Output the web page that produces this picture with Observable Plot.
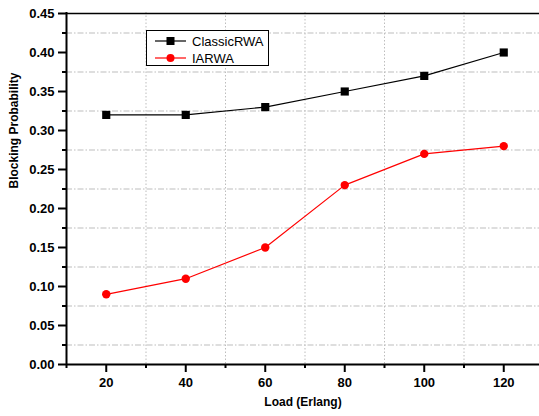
<!DOCTYPE html>
<html>
<head>
<meta charset="utf-8">
<script src="https://cdn.jsdelivr.net/npm/d3@7"></script>
<script src="https://cdn.jsdelivr.net/npm/@observablehq/plot@0.6"></script>
<style>
  body { margin: 0; background: #fff; font-family: "Liberation Sans", Arial, sans-serif; }
  #wrap { position: relative; width: 539px; height: 416px; }
  #legend { position: absolute; left: 146px; top: 30px; width: 121px; height: 34px; border: 1px solid #000; background: #fff; font-size: 13px; }
  #legend .row { position: absolute; left: 0; height: 16px; display: flex; align-items: center; }
  #legend svg { display: block; }
  #legend span { margin-left: 5px; color: #000; }
</style>
</head>
<body>
<div id="wrap"></div>
<script>
const loads = [20, 40, 60, 80, 100, 120];
const classicRWA = [0.32, 0.32, 0.33, 0.35, 0.37, 0.40];
const iarwa = [0.09, 0.11, 0.15, 0.23, 0.27, 0.28];
const seriesNames = ["ClassicRWA", "IARWA"];
const xMajor = [20, 40, 60, 80, 100, 120];
const xMinor = [10, 30, 50, 70, 90, 110, 130];
const yMajor = [0, 0.05, 0.10, 0.15, 0.20, 0.25, 0.30, 0.35, 0.40, 0.45];
const yMinor = [0.025, 0.075, 0.125, 0.175, 0.225, 0.275, 0.325, 0.375, 0.425];
const xGrid = [30, 50, 70, 90, 110];

const classicData = loads.map((x, i) => ({x, y: classicRWA[i]}));
const iaData = loads.map((x, i) => ({x, y: iarwa[i]}));

const chart = Plot.plot({
  width: 539,
  height: 416,
  marginLeft: 66,
  marginTop: 12,
  marginBottom: 52,
  marginRight: 0,
  style: {fontFamily: "'Liberation Sans', Arial, sans-serif", fontSize: "13px", fontWeight: "bold", color: "#000", background: "#fff"},
  x: {domain: [10, 130], range: [66, 543]},
  y: {domain: [0, 0.45], range: [364, 13]},
  marks: [
    Plot.ruleY(yMinor, {stroke: "#bdbdbd", strokeWidth: 1, strokeDasharray: "6,2,1.5,2"}),
    Plot.ruleX(xGrid, {stroke: "#bdbdbd", strokeWidth: 1, strokeDasharray: "1.5,2"}),
    Plot.ruleY([0.45], {stroke: "#000", strokeWidth: 1.5}),
    Plot.axisY(yMajor, {anchor: "left", tickSize: 8, tickPadding: 4, strokeWidth: 2, tickFormat: d3.format(".2f"), label: null, fontSize: 13, fontWeight: "bold"}),
    Plot.axisY(yMinor, {anchor: "left", tickSize: 4, strokeWidth: 2, tickFormat: () => "", label: null}),
    Plot.axisX(xMajor, {anchor: "bottom", tickSize: 8, tickPadding: 5, strokeWidth: 2, label: null, fontSize: 13, fontWeight: "bold"}),
    Plot.axisX(xMinor, {anchor: "bottom", tickSize: 4, strokeWidth: 2, tickFormat: () => "", label: null}),
    Plot.ruleX([10], {stroke: "#000", strokeWidth: 2}),
    Plot.ruleY([0], {stroke: "#000", strokeWidth: 2}),
    Plot.line(classicData, {x: "x", y: "y", stroke: "#000", strokeWidth: 1.2}),
    Plot.line(iaData, {x: "x", y: "y", stroke: "#ff0000", strokeWidth: 1.2}),
    Plot.dot(classicData, {x: "x", y: "y", symbol: "square", r: 4.6, fill: "#000", stroke: "none"}),
    Plot.dot(iaData, {x: "x", y: "y", symbol: "circle", r: 4.2, fill: "#ff0000", stroke: "none"}),
    Plot.text(["Blocking Probability"], {frameAnchor: "left", dx: -52, rotate: -90, fontSize: 12, fontWeight: "bold"}),
    Plot.text(["Load (Erlang)"], {frameAnchor: "bottom", dy: 41, fontSize: 12, fontWeight: "bold"})
  ]
});
const wrap = document.getElementById("wrap");
wrap.appendChild(chart);

const legend = document.createElement("div");
legend.id = "legend";
const colors = ["#000", "#ff0000"];
const symbols = ["square", "circle"];
seriesNames.forEach((name, i) => {
  const row = document.createElement("div");
  row.className = "row";
  row.style.top = (2 + i * 17) + "px";
  const sw = d3.create("svg").attr("width", 40).attr("height", 16);
  sw.append("line").attr("x1", 8).attr("x2", 39).attr("y1", 8).attr("y2", 8).attr("stroke", colors[i]).attr("stroke-width", 1.2);
  if (symbols[i] === "square") sw.append("rect").attr("x", 19.5).attr("y", 4).attr("width", 8).attr("height", 8).attr("fill", colors[i]);
  else sw.append("circle").attr("cx", 23.5).attr("cy", 8).attr("r", 4).attr("fill", colors[i]);
  row.appendChild(sw.node());
  const t = document.createElement("span");
  t.textContent = name;
  row.appendChild(t);
  legend.appendChild(row);
});
wrap.appendChild(legend);
</script>
</body>
</html>
